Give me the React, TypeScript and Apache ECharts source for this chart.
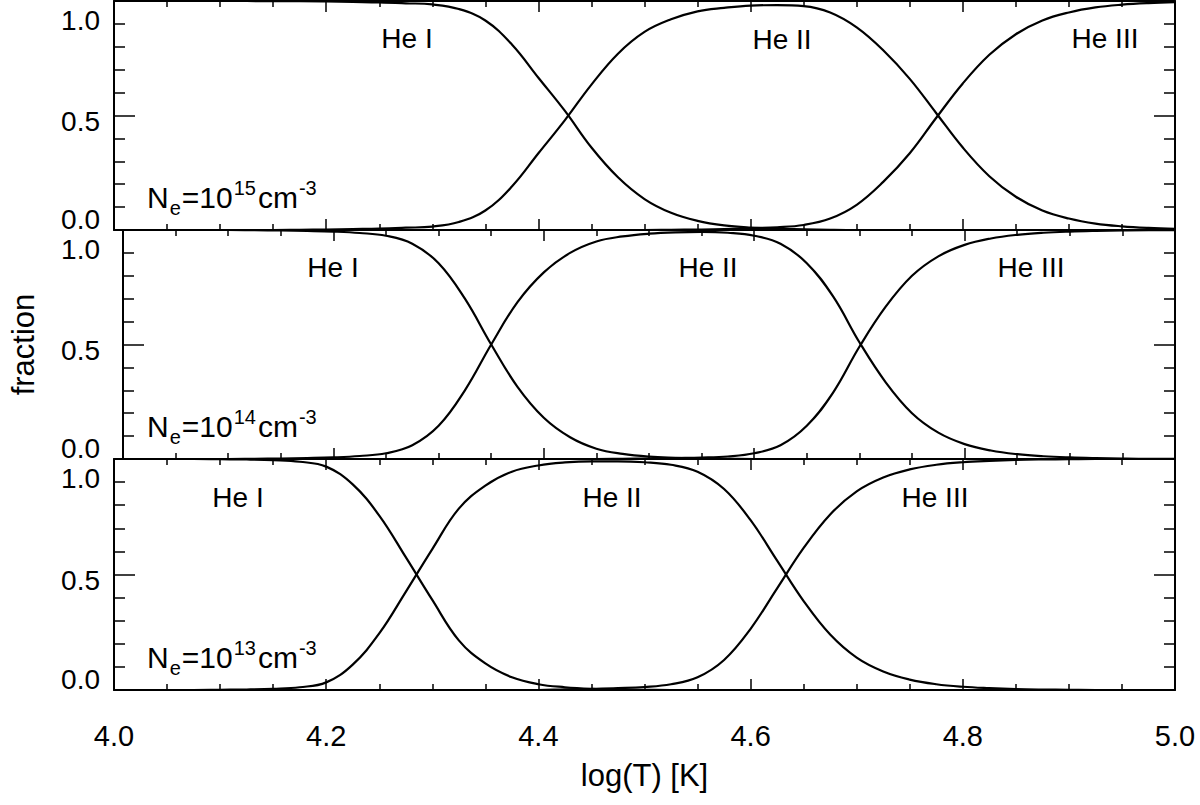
import React, { useEffect, useRef } from 'react';
import * as echarts from 'echarts';

// log(T) sampling grid
const logT = [4.000, 4.025, 4.050, 4.075, 4.100, 4.125, 4.150, 4.175, 4.200, 4.225, 4.250, 4.275, 4.300, 4.325, 4.350, 4.375, 4.400, 4.425, 4.450, 4.475, 4.500, 4.525, 4.550, 4.575, 4.600, 4.625, 4.650, 4.675, 4.700, 4.725, 4.750, 4.775, 4.800, 4.825, 4.850, 4.875, 4.900, 4.925, 4.950, 4.975, 5.000];

// Ne = 1e15 cm^-3
const ne15HeI = [1, 1, 1, 1, 1, 1, 0.999, 0.999, 0.998, 0.996, 0.994, 0.99, 0.985, 0.965, 0.915, 0.81, 0.665, 0.52, 0.36, 0.23, 0.135, 0.075, 0.04, 0.02, 0.01, 0.005, 0.003, 0.001, 0, 0, 0, 0, 0, 0, 0, 0, 0, 0, 0, 0, 0];
const ne15HeII = [0, 0, 0, 0, 0, 0, 0, 0.001, 0.002, 0.004, 0.006, 0.01, 0.015, 0.035, 0.085, 0.19, 0.335, 0.48, 0.635, 0.77, 0.865, 0.92, 0.955, 0.97, 0.98, 0.982, 0.978, 0.95, 0.885, 0.785, 0.66, 0.51, 0.36, 0.235, 0.145, 0.085, 0.05, 0.028, 0.016, 0.009, 0.005];
const ne15HeIII = [0, 0, 0, 0, 0, 0, 0, 0, 0, 0, 0, 0, 0, 0, 0, 0, 0, 0, 0, 0, 0, 0.001, 0.002, 0.004, 0.008, 0.012, 0.022, 0.05, 0.11, 0.21, 0.335, 0.49, 0.64, 0.765, 0.855, 0.915, 0.95, 0.972, 0.984, 0.991, 0.995];

// Ne = 1e14 cm^-3
const ne14HeI = [1, 1, 1, 1, 1, 0.999, 0.998, 0.996, 0.993, 0.987, 0.975, 0.94, 0.855, 0.70, 0.50, 0.315, 0.18, 0.095, 0.045, 0.022, 0.01, 0.005, 0.002, 0.001, 0, 0, 0, 0, 0, 0, 0, 0, 0, 0, 0, 0, 0, 0, 0, 0, 0];
const ne14HeII = [0, 0, 0, 0, 0, 0.001, 0.002, 0.004, 0.007, 0.013, 0.025, 0.06, 0.145, 0.30, 0.50, 0.685, 0.815, 0.90, 0.95, 0.972, 0.984, 0.99, 0.992, 0.988, 0.975, 0.94, 0.855, 0.71, 0.51, 0.335, 0.20, 0.115, 0.065, 0.037, 0.021, 0.012, 0.007, 0.004, 0.002, 0.001, 0.001];
const ne14HeIII = [0, 0, 0, 0, 0, 0, 0, 0, 0, 0, 0, 0, 0, 0, 0, 0, 0, 0, 0, 0.001, 0.002, 0.004, 0.006, 0.011, 0.025, 0.06, 0.145, 0.29, 0.49, 0.665, 0.80, 0.885, 0.935, 0.963, 0.979, 0.988, 0.993, 0.996, 0.998, 0.999, 0.999];

// Ne = 1e13 cm^-3
const ne13HeI = [1, 1, 1, 1, 0.999, 0.998, 0.995, 0.988, 0.967, 0.89, 0.755, 0.575, 0.39, 0.215, 0.115, 0.055, 0.025, 0.012, 0.005, 0.002, 0.001, 0, 0, 0, 0, 0, 0, 0, 0, 0, 0, 0, 0, 0, 0, 0, 0, 0, 0, 0, 0];
const ne13HeII = [0, 0, 0, 0, 0.001, 0.002, 0.005, 0.012, 0.033, 0.11, 0.245, 0.425, 0.61, 0.785, 0.885, 0.945, 0.972, 0.985, 0.99, 0.99, 0.986, 0.975, 0.945, 0.87, 0.735, 0.56, 0.385, 0.24, 0.14, 0.08, 0.045, 0.025, 0.014, 0.008, 0.004, 0.002, 0.001, 0, 0, 0, 0];
const ne13HeIII = [0, 0, 0, 0, 0, 0, 0, 0, 0, 0, 0, 0, 0, 0, 0, 0, 0, 0.003, 0.005, 0.008, 0.013, 0.025, 0.055, 0.13, 0.265, 0.44, 0.615, 0.76, 0.86, 0.92, 0.955, 0.975, 0.986, 0.992, 0.996, 0.998, 0.999, 1, 1, 1, 1];

const ionNames = ['He I', 'He II', 'He III'];
const densityExponents = ['15', '14', '13'];
const panels = [
  [ne15HeI, ne15HeII, ne15HeIII],
  [ne14HeI, ne14HeII, ne14HeIII],
  [ne13HeI, ne13HeII, ne13HeIII],
];
const yTickValues = [0, 0.5, 1];
const yTickLabels = ['0.0', '0.5', '1.0'];
const xAxisTitle = 'log(T) [K]';
const yAxisTitle = 'fraction';

// layout
const FONT = '"Liberation Sans", Arial, Helvetica, sans-serif';
const INK = '#000';
const gridLeft = 114;
const gridTops = [1, 230, 459];
const gridHeights = [229, 229, 231];
const yLabelShift = [-11, 6, 19]; // vertical offset of tick label vs its tick (0.0, 0.5, 1.0)
const ionLabelPos = [
  [[407, 38.5], [782, 39], [1105, 38]],
  [[333, 267], [708, 267], [1031, 267]],
  [[238, 497], [612, 497], [935, 497]],
];
const neLabelPos = [[147, 197.5], [147, 426.5], [147, 657.5]];

export default function App() {
  const ref = useRef<HTMLDivElement>(null);
  useEffect(() => {
    if (!ref.current) return;
    const chart = echarts.init(ref.current, undefined, { renderer: 'svg' });

    const grids: any[] = [];
    const xAxes: any[] = [];
    const yAxes: any[] = [];
    const series: any[] = [];
    const graphics: any[] = [];

    const axisLine = { show: true, onZero: false, lineStyle: { color: INK, width: 2 } };

    panels.forEach((curves, i) => {
      grids.push({ left: gridLeft, right: 25, top: gridTops[i], height: gridHeights[i], containLabel: false });
      ['bottom', 'top'].forEach((pos) => {
        const isBottomLabelled = pos === 'bottom' && i === 2;
        xAxes.push({
          type: 'value',
          gridIndex: i,
          position: pos,
          min: 4,
          max: 5,
          interval: 0.2,
          axisLine,
          axisTick: { show: true, inside: true, length: 11, lineStyle: { color: INK, width: 1.5 } },
          minorTick: { show: true, splitNumber: 4, length: 6, lineStyle: { color: INK, width: 1.5 } },
          splitLine: { show: false },
          minorSplitLine: { show: false },
          axisLabel: {
            show: isBottomLabelled,
            margin: 31,
            color: INK,
            fontSize: 29,
            fontFamily: FONT,
            formatter: (v: number) => v.toFixed(1),
          },
          name: isBottomLabelled ? xAxisTitle : '',
          nameLocation: 'middle',
          nameGap: 70,
          nameTextStyle: { color: INK, fontSize: 31, fontFamily: FONT },
        });
      });
      ['left', 'right'].forEach((pos) => {
        const labelled = pos === 'left';
        yAxes.push({
          type: 'value',
          gridIndex: i,
          position: pos,
          min: 0,
          max: 1,
          interval: 0.5,
          axisLine,
          axisTick: { show: true, inside: true, length: 21, lineStyle: { color: INK, width: 1.5 } },
          minorTick: { show: true, splitNumber: 5, length: 11, lineStyle: { color: INK, width: 1.5 } },
          splitLine: { show: false },
          minorSplitLine: { show: false },
          axisLabel: { show: false },
          name: labelled && i === 1 ? yAxisTitle : '',
          nameLocation: 'middle',
          nameGap: 84,
          nameRotate: 90,
          nameTextStyle: { color: INK, fontSize: 31, fontFamily: FONT },
        });
      });

      // y tick labels (IDL-style placement, nudged inside the panel at the ends)
      yTickValues.forEach((v, t) => {
        const tickY = gridTops[i] + gridHeights[i] * (1 - v);
        graphics.push({
          type: 'text',
          x: gridLeft - 14,
          y: tickY + yLabelShift[t],
          style: {
            text: yTickLabels[t],
            fill: INK,
            fontSize: 28,
            fontFamily: FONT,
            lineHeight: 24,
            align: 'right',
            verticalAlign: 'middle',
          },
        });
      });

      curves.forEach((vals, k) => {
        series.push({
          type: 'line',
          name: `${ionNames[k]} ${densityExponents[i]}`,
          xAxisIndex: i * 2,
          yAxisIndex: i * 2,
          data: logT.map((x, j) => [x, vals[j]]),
          showSymbol: false,
          smooth: 0.4,
          clip: true,
          lineStyle: { color: INK, width: 2.2 },
          silent: true,
        });
        graphics.push({
          type: 'text',
          x: ionLabelPos[i][k][0],
          y: ionLabelPos[i][k][1],
          style: {
            text: ionNames[k],
            fill: INK,
            fontSize: 28,
            fontFamily: FONT,
            align: 'center',
            verticalAlign: 'middle',
          },
        });
      });

      graphics.push({
        type: 'text',
        x: neLabelPos[i][0],
        y: neLabelPos[i][1],
        style: {
          text: `{n|N}{sub|e}{n|=10}{sup|${densityExponents[i]}}{n|cm}{sup|-3}`,
          fill: INK,
          align: 'left',
          verticalAlign: 'middle',
          rich: {
            n: { fontSize: 30, fontFamily: FONT, fill: INK, color: INK, lineHeight: 40 },
            sub: { fontSize: 20, fontFamily: FONT, fill: INK, color: INK, lineHeight: 16, verticalAlign: 'bottom', padding: [0, 1, 0, 1] },
            sup: { fontSize: 20, fontFamily: FONT, fill: INK, color: INK, lineHeight: 22, verticalAlign: 'top', padding: [0, 2, 0, 1] },
          },
        },
      });
    });

    chart.setOption({
      animation: false,
      backgroundColor: '#fff',
      grid: grids,
      xAxis: xAxes,
      yAxis: yAxes,
      series,
      graphic: graphics,
    });

    return () => chart.dispose();
  }, []);

  return (
    <div
      ref={ref}
      style={{ position: 'absolute', left: 0, top: 0, width: 1200, height: 805, background: '#fff' }}
    />
  );
}
